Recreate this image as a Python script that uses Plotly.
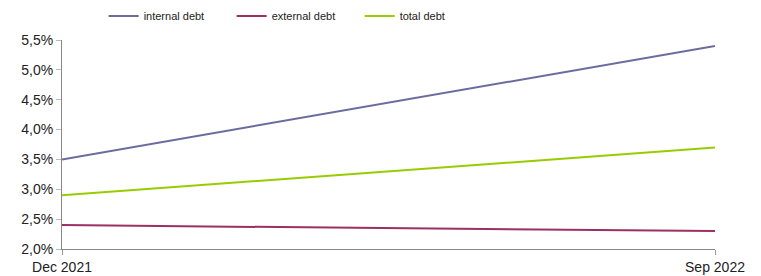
import plotly.graph_objects as go

categories = ["Dec 2021", "Sep 2022"]
internal_debt = [3.5, 5.4]
external_debt = [2.4, 2.3]
total_debt = [2.9, 3.7]
y_ticks = [2.0, 2.5, 3.0, 3.5, 4.0, 4.5, 5.0, 5.5]
y_ticklabels = [f"{v:.1f}".replace(".", ",") + "%" for v in y_ticks]

xpos = list(range(len(categories)))

fig = go.Figure()
fig.add_trace(go.Scatter(x=xpos, y=internal_debt, mode="lines", name="internal debt",
                         line=dict(color="#6B6B9E", width=2)))
fig.add_trace(go.Scatter(x=xpos, y=external_debt, mode="lines", name="external debt",
                         line=dict(color="#9C2F63", width=2)))
fig.add_trace(go.Scatter(x=xpos, y=total_debt, mode="lines", name="total debt",
                         line=dict(color="#99CC00", width=2)))

fig.update_layout(
    width=753, height=268,
    margin=dict(l=54, r=46, t=32, b=27, autoexpand=False),
    paper_bgcolor="white", plot_bgcolor="white",
    font=dict(family="Liberation Sans, Arial, sans-serif", color="#222222", size=14),
    legend=dict(orientation="h", xref="container", yref="container",
                x=0.127, y=0.970, xanchor="left", yanchor="middle",
                font=dict(size=11), entrywidth=83, itemwidth=30,
                bgcolor="rgba(0,0,0,0)"),
    xaxis=dict(range=[0, 1], tickvals=xpos, ticktext=categories,
               showgrid=False, zeroline=False, showline=True, linecolor="#888888",
               linewidth=1, ticks="outside", ticklen=5, tickcolor="#999999"),
    yaxis=dict(range=[2.0, 5.5], tickvals=y_ticks, ticktext=y_ticklabels,
               showgrid=False, zeroline=False, showline=True, linecolor="#888888",
               linewidth=1, ticks="outside", ticklen=5, tickcolor="#BBBBBB"),
)

fig.write_html("out.html")
